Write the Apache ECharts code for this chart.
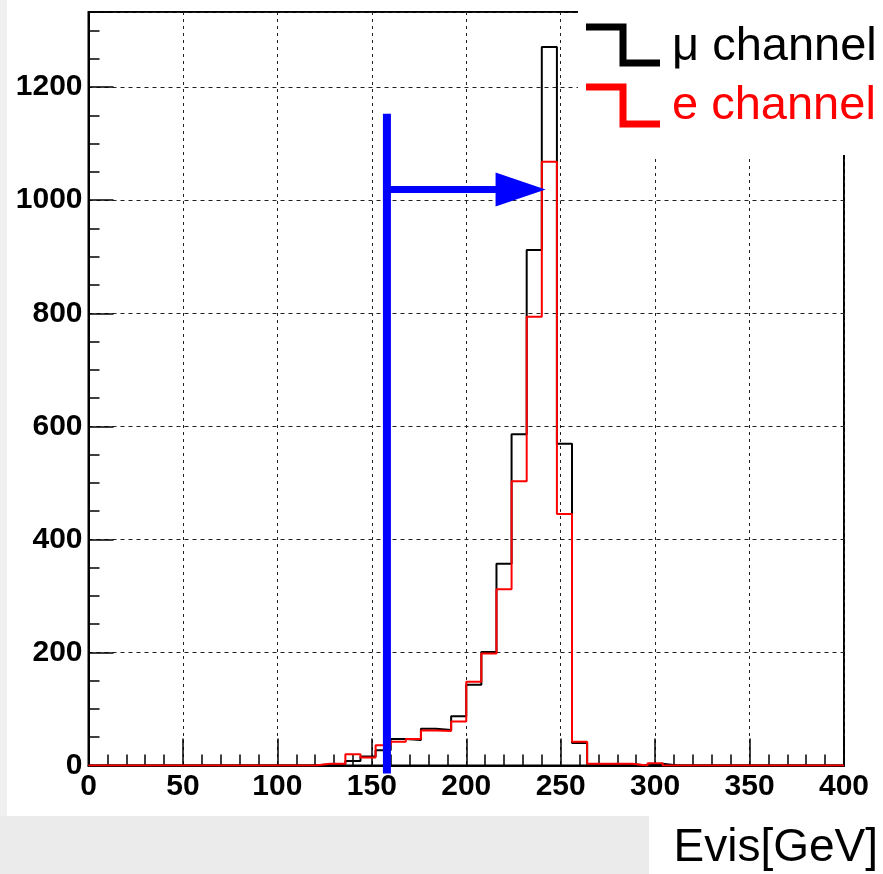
<!DOCTYPE html>
<html lang="en">

<head>
    <meta charset="UTF-8">
    <title>Evis</title>
    <script src="https://cdn.jsdelivr.net/npm/echarts@6/dist/echarts.min.js"></script>
    <style>
        html,
        body {
            margin: 0;
            padding: 0;
        }

        #chart {
            width: 883px;
            height: 874px;
        }
    </style>
</head>

<body>
    <div id="chart"></div>
    <script>
        // histogram: 50 bins of 8 GeV from 0 to 400
        let binWidth = 8;
        let xRange = [0, 400];
        let yRange = [0, 1333];
        let muCounts = [
            0, 0, 0, 0, 0, 0, 0, 0, 0, 0,
            0, 0, 0, 0, 0, 2, 2, 8, 16, 27,
            47, 45, 65, 63, 87, 143, 201, 357, 586, 912,
            1271, 569, 40, 2, 2, 2, 0, 3, 0, 0,
            0, 0, 0, 0, 0, 0, 0, 0, 0, 0
        ];
        let eCounts = [
            0, 0, 0, 0, 0, 0, 0, 0, 0, 0,
            0, 0, 0, 0, 0, 3, 3, 20, 14, 36,
            42, 47, 62, 61, 78, 148, 198, 312, 503, 794,
            1068, 445, 42, 3, 3, 3, 0, 4, 0, 0,
            0, 0, 0, 0, 0, 0, 0, 0, 0, 0
        ];
        let channelNames = ['\u03bc channel', 'e channel'];
        let axisTitle = 'Evis[GeV]';
        // cut line and arrow (Evis, counts)
        let cutEvis = 158;
        let cutTop = 1153;
        let arrowLevel = 1019;
        let arrowTip = 242;

        function toSteps(counts) {
            let res = counts.map((c, i) => [i * binWidth, c]);
            res.push([counts.length * binWidth, counts[counts.length - 1]]);
            return res;
        }

        let chart = echarts.init(document.getElementById('chart'));
        let labelFont = { color: '#000', fontFamily: 'Liberation Sans, Arial, sans-serif', fontWeight: 'bold', fontSize: 30 };
        let option = {
            animation: false,
            backgroundColor: '#ebebeb',
            grid: {
                left: 88.5, right: 39, top: 12, bottom: 108.5,
                show: true, borderColor: '#000', borderWidth: 2, backgroundColor: 'transparent'
            },
            xAxis: {
                type: 'value', min: xRange[0], max: xRange[1], interval: 50,
                axisLine: { lineStyle: { color: '#000', width: 2 } },
                axisTick: { inside: true, length: 27, lineStyle: { color: '#000', width: 1.5 } },
                minorTick: { show: true, splitNumber: 5, length: 11, lineStyle: { color: '#000', width: 1.5 } },
                axisLabel: Object.assign({ margin: 6 }, labelFont),
                splitLine: { show: true, lineStyle: { color: '#222', width: 1, type: [3, 4] } }
            },
            yAxis: [{
                type: 'value', min: yRange[0], max: yRange[1], interval: 200,
                axisLine: { show: true, lineStyle: { color: '#000', width: 2 } },
                axisTick: { show: true, inside: true, length: 25, lineStyle: { color: '#000', width: 1.5 } },
                axisLabel: Object.assign({
                    margin: 6,
                    formatter: v => (v % 200 === 0 ? String(v) : '')
                }, labelFont),
                splitLine: { show: true, lineStyle: { color: '#222', width: 1, type: [4, 4] } }
            }, {
                type: 'value', min: yRange[0], max: yRange[1], interval: 50, position: 'left',
                axisLine: { show: false },
                axisTick: { show: true, inside: true, length: 11, lineStyle: { color: '#000', width: 1.5 } },
                axisLabel: { show: false },
                splitLine: { show: false }
            }],
            graphic: [
                { type: 'rect', shape: { x: 0, y: 0, width: 7, height: 816 }, style: { fill: '#f0f0f0' }, z: -10, silent: true },
                { type: 'rect', shape: { x: 7, y: 0, width: 876, height: 816 }, style: { fill: '#fff' }, z: -10, silent: true },
                { type: 'rect', shape: { x: 649, y: 816, width: 234, height: 58 }, style: { fill: '#fff' }, z: -10, silent: true },
                // legend panel covers the frame corner
                { type: 'rect', shape: { x: 578, y: 0, width: 305, height: 155 }, style: { fill: '#fff' }, z: 50, silent: true },
                {
                    type: 'polyline', shape: { points: [[586, 27], [623, 27], [623, 63], [660, 63]] },
                    style: { stroke: '#000', lineWidth: 7, fill: null }, z: 51
                },
                {
                    type: 'polyline', shape: { points: [[586, 87], [623, 87], [623, 124], [660, 124]] },
                    style: { stroke: '#ff0000', lineWidth: 7, fill: null }, z: 51
                },
                {
                    type: 'text', x: 672, y: 47, z: 51,
                    style: { text: channelNames[0], fill: '#000', font: '47px "Liberation Sans", Arial, sans-serif', verticalAlign: 'middle' }
                },
                {
                    type: 'text', x: 672, y: 106, z: 51,
                    style: { text: channelNames[1], fill: '#ff0000', font: '47px "Liberation Sans", Arial, sans-serif', verticalAlign: 'middle' }
                },
                {
                    type: 'text', x: 878, y: 848, z: 51,
                    style: { text: axisTitle, fill: '#000', font: '46px "Liberation Sans", Arial, sans-serif', align: 'right', verticalAlign: 'middle' }
                }
            ],
            series: [{
                name: channelNames[0],
                type: 'line',
                step: 'end',
                showSymbol: false,
                data: toSteps(muCounts),
                lineStyle: { color: '#000', width: 2 },
                z: 2
            }, {
                name: channelNames[1],
                type: 'line',
                step: 'end',
                showSymbol: false,
                data: toSteps(eCounts),
                lineStyle: { color: '#ff0000', width: 2 },
                z: 3
            }, {
                type: 'custom',
                clip: false,
                z: 4,
                data: [[cutEvis, cutTop, arrowLevel, arrowTip]],
                renderItem: function (params, api) {
                    let top = api.coord([api.value(0), api.value(1)]);
                    let bottom = api.coord([api.value(0), 0]);
                    let start = api.coord([api.value(0), api.value(2)]);
                    let tip = api.coord([api.value(3), api.value(2)]);
                    return {
                        type: 'group',
                        children: [{
                            type: 'line',
                            shape: { x1: top[0], y1: top[1], x2: bottom[0], y2: bottom[1] + 8 },
                            style: { stroke: '#0000ff', lineWidth: 8 }
                        }, {
                            type: 'line',
                            shape: { x1: start[0], y1: start[1], x2: tip[0] - 45, y2: start[1] },
                            style: { stroke: '#0000ff', lineWidth: 7 }
                        }, {
                            type: 'polygon',
                            shape: { points: [[tip[0] - 50, start[1] - 17], [tip[0], start[1]], [tip[0] - 50, start[1] + 17]] },
                            style: { fill: '#0000ff' }
                        }]
                    };
                }
            }]
        };
        chart.setOption(option);
    </script>
</body>

</html>
